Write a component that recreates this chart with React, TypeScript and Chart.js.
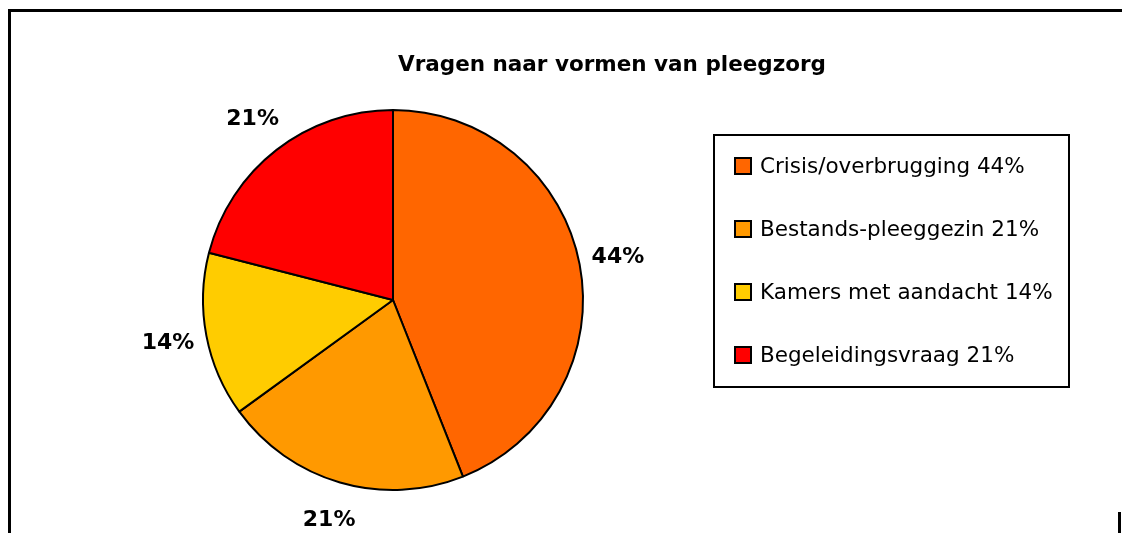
import React, { useEffect, useRef } from "react";
import { Chart, registerables } from "chart.js";

Chart.register(...registerables);

const categories = ["Crisis/overbrugging", "Bestands-pleeggezin", "Kamers met aandacht", "Begeleidingsvraag"];
const values = [44, 21, 14, 21];
const percentLabels = ["44%", "21%", "14%", "21%"];
const colors = ["#FF6600", "#FF9900", "#FFCC00", "#FF0000"];
const chartTitle = "Vragen naar vormen van pleegzorg";

const FONT = '"DejaVu Sans", sans-serif';

const decorPlugin = {
  id: "decor",
  afterDraw(chart: any) {
    const ctx = chart.ctx as CanvasRenderingContext2D;
    ctx.save();
    // outer frame
    ctx.strokeStyle = "#000";
    ctx.lineWidth = 3;
    ctx.beginPath();
    ctx.moveTo(9.5, 560);
    ctx.lineTo(9.5, 10.5);
    ctx.lineTo(1122, 10.5);
    ctx.stroke();
    ctx.beginPath();
    ctx.moveTo(1119.5, 512);
    ctx.lineTo(1119.5, 540);
    ctx.stroke();

    // title
    ctx.fillStyle = "#000";
    ctx.font = `bold 21.5px ${FONT}`;
    ctx.textAlign = "center";
    ctx.textBaseline = "middle";
    ctx.fillText(chartTitle, 612, 65);

    // slice labels
    const meta = chart.getDatasetMeta(0);
    ctx.font = `bold 22px ${FONT}`;
    meta.data.forEach((arc: any, i: number) => {
      const mid = (arc.startAngle + arc.endAngle) / 2;
      const r = arc.outerRadius + 39;
      ctx.fillText(percentLabels[i], arc.x + Math.cos(mid) * r, arc.y + Math.sin(mid) * r);
    });

    // legend box
    ctx.lineWidth = 2;
    ctx.strokeRect(714, 135, 355, 252);
    ctx.font = `21.5px ${FONT}`;
    ctx.textAlign = "left";
    const rowY = [166, 229, 292, 355];
    categories.forEach((c, i) => {
      const y = rowY[i];
      ctx.fillStyle = colors[i];
      ctx.fillRect(735, y - 8, 16, 16);
      ctx.strokeStyle = "#000";
      ctx.lineWidth = 2;
      ctx.strokeRect(735, y - 8, 16, 16);
      ctx.fillStyle = "#000";
      ctx.fillText(`${c} ${percentLabels[i]}`, 760, y + 1);
    });
    ctx.restore();
  },
};

export default function App() {
  const ref = useRef<HTMLCanvasElement>(null);
  useEffect(() => {
    if (!ref.current) return;
    const chart = new Chart(ref.current, {
      type: "pie",
      data: {
        labels: categories,
        datasets: [
          {
            data: values,
            backgroundColor: colors,
            borderColor: "#000",
            borderWidth: 2,
            borderAlign: "center",
          },
        ],
      },
      options: {
        responsive: false,
        animation: false,
        events: [],
        layout: { padding: { left: 202, top: 109, right: 538, bottom: 42 } },
        plugins: {
          legend: { display: false },
          title: { display: false },
          tooltip: { enabled: false },
        },
      },
      plugins: [decorPlugin],
    });
    return () => chart.destroy();
  }, []);
  return (
    <canvas
      ref={ref}
      width={1122}
      height={533}
      style={{ position: "fixed", left: 0, top: 0, width: 1122, height: 533, background: "#fff" }}
    />
  );
}
